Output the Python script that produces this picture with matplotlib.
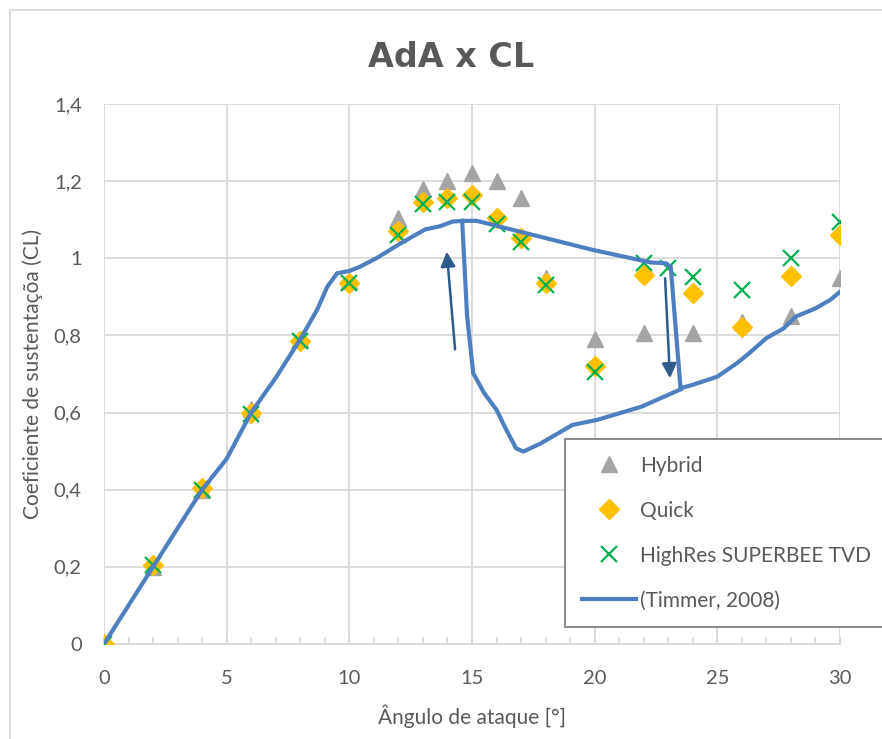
import matplotlib.pyplot as plt
from matplotlib.ticker import MultipleLocator, FuncFormatter
from matplotlib.patches import Rectangle

# CFD results: angle of attack [deg] vs lift coefficient
aoa = [0, 2, 4, 6, 8, 10, 12, 13, 14, 15, 16, 17, 18, 20, 22, 24, 26, 28, 30]
cl_hybrid = [0, 0.20, 0.40, 0.61, 0.79, 0.94, 1.105, 1.18, 1.20, 1.22, 1.20, 1.155,
             0.95, 0.79, 0.805, 0.805, 0.835, 0.85, 0.95]
cl_quick = [0, 0.205, 0.405, 0.60, 0.785, 0.935, 1.07, 1.145, 1.155, 1.163, 1.105, 1.052,
            0.935, 0.72, 0.957, 0.91, 0.822, 0.954, 1.06]

aoa_highres = [0, 2, 4, 6, 8, 10, 12, 13, 14, 15, 16, 17, 18, 20, 22, 23, 24, 26, 28, 30]
cl_highres = [0, 0.205, 0.40, 0.595, 0.785, 0.935, 1.06, 1.14, 1.146, 1.146, 1.09, 1.042,
              0.93, 0.705, 0.988, 0.975, 0.952, 0.918, 1.0, 1.094]

# Timmer (2008) experimental hysteresis loop
timmer_up_aoa = [0, 2, 4, 5, 6, 7, 8, 8.7, 9.1, 9.5, 10.0, 10.4, 11.1, 12.1, 13.1, 13.7,
                 14.2, 14.6, 15.2, 16.7, 19.9, 22.3, 22.9, 23.1, 23.3, 23.5, 24.0, 25.0,
                 25.8, 26.3, 27.0, 27.7, 28.2, 29.0, 29.6, 30.0]
timmer_up_cl = [0, 0.2, 0.4, 0.48, 0.6, 0.69, 0.79, 0.868, 0.926, 0.961, 0.967, 0.977,
                1.0, 1.039, 1.075, 1.083, 1.095, 1.097, 1.097, 1.073, 1.022, 0.989, 0.987,
                0.978, 0.82, 0.663, 0.672, 0.693, 0.728, 0.754, 0.793, 0.818, 0.849,
                0.870, 0.892, 0.913]
timmer_down_aoa = [23.5, 21.9, 20.1, 19.1, 17.8, 17.1, 16.8, 16.4, 16.0, 15.5, 15.05,
                   14.8, 14.6]
timmer_down_cl = [0.66, 0.615, 0.581, 0.568, 0.52, 0.499, 0.507, 0.555, 0.607, 0.65,
                  0.702, 0.85, 1.097]

# direction arrows (tail -> head)
arrow_up = [(14.31, 0.764), (13.97, 1.017)]
arrow_down = [(22.87, 0.948), (23.07, 0.689)]

plt.rcParams['font.family'] = ['Lato', 'DejaVu Sans']
text_col = '#595959'
grid_col = '#D9D9D9'

fig = plt.figure(figsize=(8.82, 7.39), dpi=100)
ax = fig.add_axes([0.1179, 0.1286, 0.8345, 0.7307])

ax.plot(aoa, cl_hybrid, linestyle='none', marker='^', ms=11, color='#A5A5A5',
        label='Hybrid', zorder=3)
ax.plot(aoa, cl_quick, linestyle='none', marker='D', ms=10, color='#FFC000',
        label='Quick', zorder=4)
ax.plot(aoa_highres, cl_highres, linestyle='none', marker='x', ms=12, mew=1.6,
        color='#00B050', label='HighRes SUPERBEE TVD', zorder=5)
ax.plot(timmer_up_aoa, timmer_up_cl, color='#4F7FC0', lw=3, solid_joinstyle='round',
        label='(Timmer, 2008)', zorder=6)
ax.plot(timmer_down_aoa, timmer_down_cl, color='#4F7FC0', lw=3,
        solid_joinstyle='round', zorder=6)

for (x0, y0), (x1, y1) in [arrow_up, arrow_down]:
    ax.annotate('', xy=(x1, y1), xytext=(x0, y0),
                arrowprops=dict(arrowstyle='-|>', color='#2F5A8E', lw=1.8,
                                mutation_scale=22, shrinkA=0, shrinkB=0), zorder=7)

ax.set_xlim(0, 30)
ax.set_ylim(0, 1.4)
ax.xaxis.set_major_locator(MultipleLocator(5))
ax.xaxis.set_minor_locator(MultipleLocator(1))
ax.yaxis.set_major_locator(MultipleLocator(0.2))
ax.yaxis.set_major_formatter(FuncFormatter(lambda v, p: f'{v:.1f}'.rstrip('0').rstrip('.').replace('.', ',')))

ax.grid(True, color=grid_col, lw=1.3)
ax.set_axisbelow(True)
for s in ['top', 'right', 'left']:
    ax.spines[s].set_visible(False)
ax.spines['bottom'].set_color(grid_col)
ax.spines['bottom'].set_linewidth(1.3)
ax.tick_params(axis='x', which='both', direction='in', length=5, color=grid_col,
               width=1.3, labelsize=14.5, labelcolor=text_col, pad=19)
ax.tick_params(axis='y', length=0, labelsize=14.5, labelcolor=text_col, pad=16)

ax.set_xlabel('Ângulo de ataque [°]', fontsize=15, color=text_col, labelpad=12)
ax.set_ylabel('Coeficiente de sustentaçõa (CL)', fontsize=15, color=text_col, labelpad=8)
fig.text(0.511, 0.922, 'AdA x CL', ha='center', va='center', fontsize=24,
         fontweight='bold', color=text_col, family=['DejaVu Sans'])

leg = fig.legend(loc='upper left', bbox_to_anchor=(0.6406, 0.406), fontsize=15,
                 frameon=True, fancybox=False, edgecolor='#808080', framealpha=1,
                 labelspacing=1.2, handlelength=2.6, handletextpad=0.2,
                 borderpad=0.8, borderaxespad=0, labelcolor=text_col)
leg.get_frame().set_linewidth(1.3)

# outer chart frame
fig.patches.append(Rectangle((10 / 882, -0.1), 1.1, 1.1 - 10 / 739,
                             transform=fig.transFigure, fill=False,
                             edgecolor=grid_col, lw=1.3))

fig.savefig('out.png', dpi=100)
